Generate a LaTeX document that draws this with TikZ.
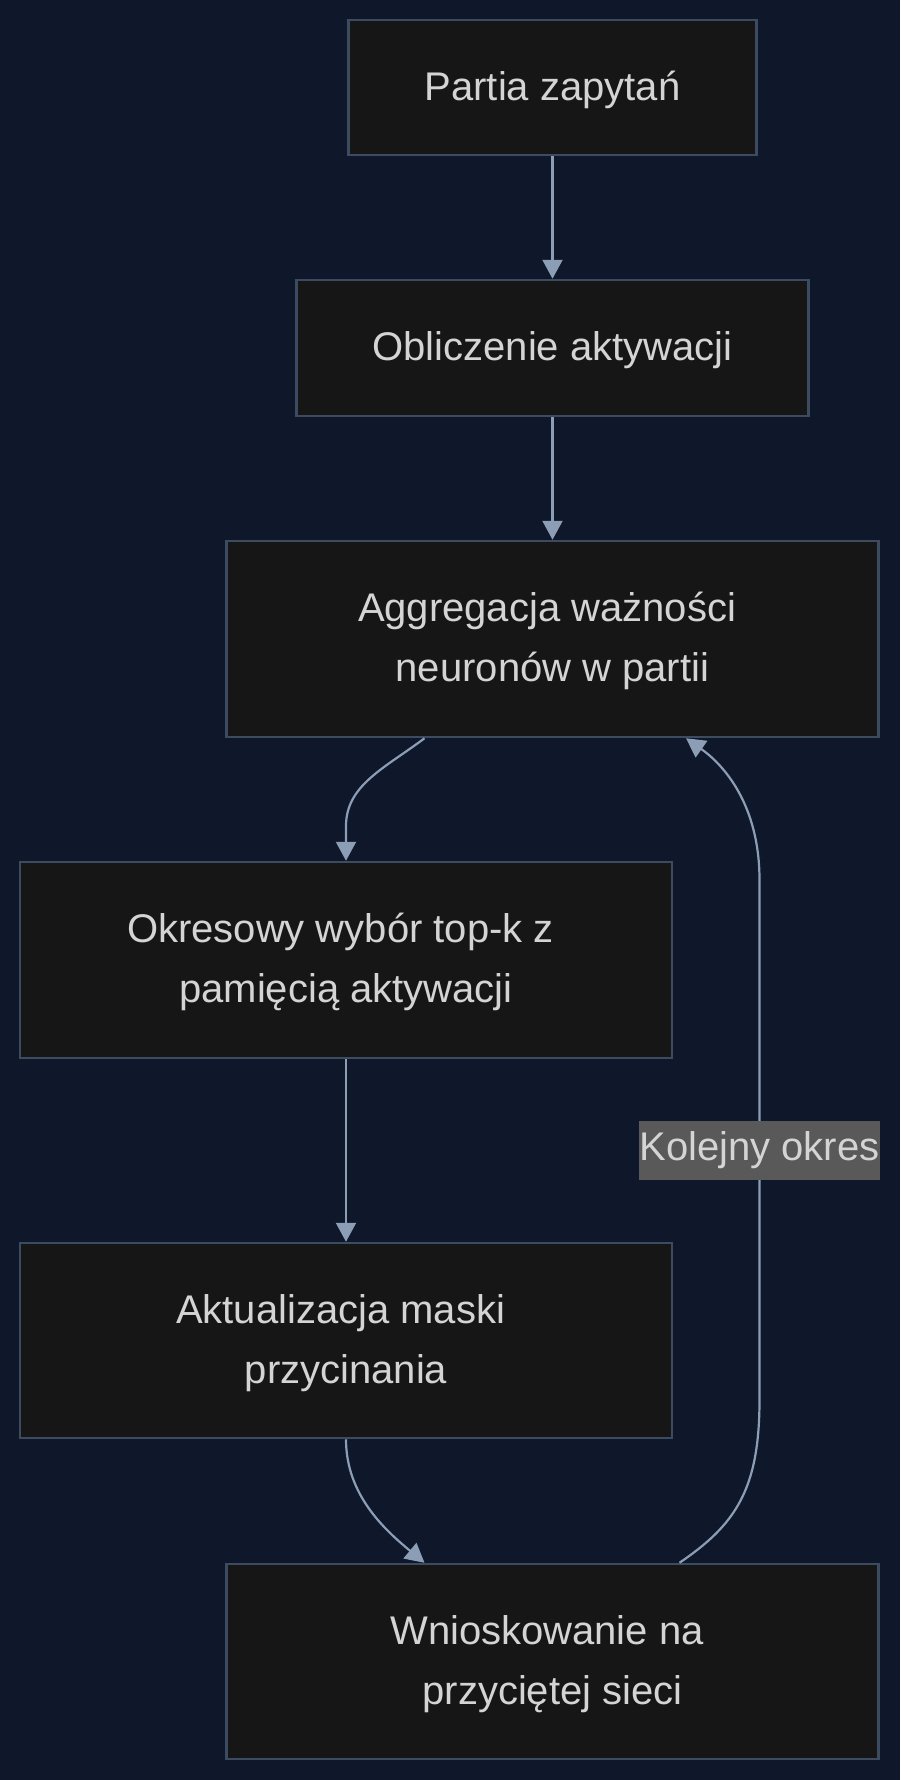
\documentclass[tikz,border=0pt]{standalone}
\usepackage{fontspec}
\setmainfont{Liberation Sans}
\usetikzlibrary{arrows.meta,calc}
\definecolor{bgc}{HTML}{0F172A}
\definecolor{boxfill}{HTML}{161616}
\definecolor{boxline}{HTML}{3D4B60}
\definecolor{edgec}{HTML}{8C9DB6}
\definecolor{txtc}{HTML}{D4D4D4}
\definecolor{lblfill}{HTML}{595959}
\newcommand\mystrut{\rule[-17.2pt]{0pt}{60pt}}
\tikzset{
  flowbox/.style={draw=boxline, fill=boxfill, line width=2.5pt, text=txtc,
    align=center, inner sep=0pt, font=\fontsize{40}{60}\selectfont},
  flowedge/.style={draw=edgec, line width=2.2pt, -{Triangle[length=19pt,width=20pt]}},
  edgelabel/.style={fill=lblfill, text=txtc, inner sep=0pt, minimum height=59pt,
    font=\fontsize{40}{60}\selectfont}
}
\begin{document}
\begin{tikzpicture}[x=1pt,y=-1pt]
\useasboundingbox (0,0) rectangle (900,1780);
\fill[bgc] (0,0) rectangle (900,1780);

\node[flowbox, minimum width=408pt, minimum height=135pt] (b1) at (552.5,87.5) {\mystrut Partia zapytań};
\node[flowbox, minimum width=512pt, minimum height=136pt] (b2) at (552.5,348) {\mystrut Obliczenie aktywacji};
\node[flowbox, minimum width=652pt, minimum height=196pt] (b3) at (552.5,639) {\mystrut Aggregacja ważności\kern11pt\\\mystrut neuronów w partii};
\node[flowbox, minimum width=652pt, minimum height=196pt] (b4) at (346,960) {\mystrut Okresowy wybór top-k z\kern11pt\\\mystrut pamięcią aktywacji};
\node[flowbox, minimum width=652pt, minimum height=195pt] (b5) at (346,1340.5) {\mystrut Aktualizacja maski\kern11pt\\\mystrut przycinania};
\node[flowbox, minimum width=652pt, minimum height=195pt] (b6) at (552.5,1661.5) {\mystrut Wnioskowanie na\kern11pt\\\mystrut przyciętej sieci};

\draw[flowedge] (b1.south) -- (b2.north);
\draw[flowedge] (b2.south) -- (b3.north);
\draw[flowedge] ($(b3.south)+(-128,0)$) .. controls (385,768) and (346,785) .. (346,826) -- (b4.north);
\draw[flowedge] (b4.south) -- (b5.north);
\draw[flowedge] (b5.south) .. controls (346,1495) and (385,1530) .. ($(b6.north)+(-128,0)$);
\draw[flowedge] ($(b6.north)+(127,0)$) .. controls (735,1525) and (759.5,1490) .. (759.5,1400)
  -- (759.5,880) .. controls (759.5,805) and (724,765) .. ($(b3.south)+(133.5,0)$);

\node[edgelabel] (lbl) at (759.5,1150.5) {Kolejny okres};
\end{tikzpicture}
\end{document}
